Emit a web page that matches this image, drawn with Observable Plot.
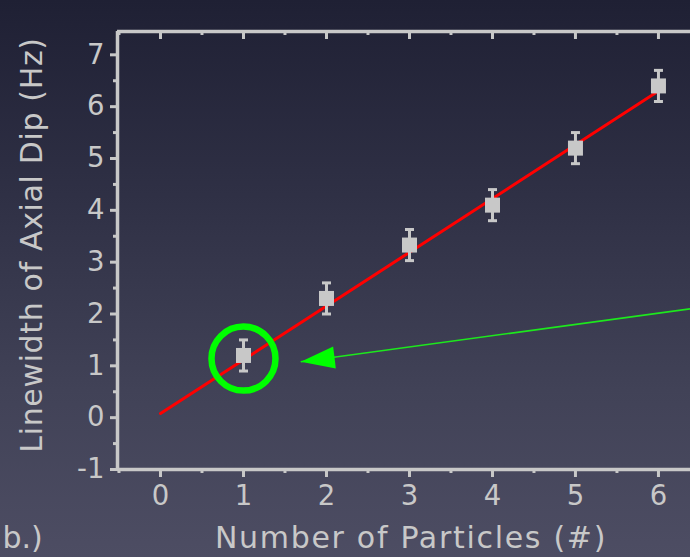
<!DOCTYPE html>
<html>
<head>
<meta charset="utf-8">
<script src="https://cdn.jsdelivr.net/npm/d3@7"></script>
<script src="https://cdn.jsdelivr.net/npm/@observablehq/plot@0.6"></script>
<style>
  html, body { margin: 0; padding: 0; background: #35364b; }
  #chart { width: 690px; height: 557px; }
</style>
</head>
<body>
<div id="chart"></div>
<script>
// ---- data ----
const particles = [1, 2, 3, 4, 5, 6];
const linewidths = [1.2, 2.3, 3.33, 4.1, 5.2, 6.4];
const errors = [0.3, 0.3, 0.3, 0.3, 0.3, 0.3];
const fitX = [0, 6];
const fitY = [0.08, 6.3];
const xTicks = [0, 1, 2, 3, 4, 5, 6];
const xMinorTicks = [-0.5, 0.5, 1.5, 2.5, 3.5, 4.5, 5.5];
const yTicks = [-1, 0, 1, 2, 3, 4, 5, 6, 7];
const yMinorTicks = [-0.5, 0.5, 1.5, 2.5, 3.5, 4.5, 5.5, 6.5];
const highlight = [{x: 1, y: 1.14}];
const arrowTail = {x: 6.386, y: 2.1};
const arrowTip = {x: 1.69, y: 1.08};
const xDomain = [-0.518, 6.386];
const yDomain = [-1, 7.45];
const xLabel = "Number of Particles (#)";
const yLabel = "Linewidth of Axial Dip (Hz)";
const panelLabel = "b.)";

// ---- build ----
const rows = particles.map((x, i) => ({x, y: linewidths[i], e: errors[i]}));
const fit = fitX.map((x, i) => ({x, y: fitY[i]}));

const gray = "#c8c8c8";
const green = "#00ff00";

const capSymbol = {
  draw(ctx) {
    const w = 4.5, h = 1.5;
    ctx.moveTo(-w, -h); ctx.lineTo(w, -h); ctx.lineTo(w, h); ctx.lineTo(-w, h); ctx.closePath();
  }
};
const headSymbol = {
  draw(ctx) {
    ctx.moveTo(0, 0); ctx.lineTo(34, -11); ctx.lineTo(34, 11); ctx.closePath();
  }
};
const squareR = 15 / Math.sqrt(Math.PI);
const fmt = d => d < 0 ? "-" + Math.abs(d) : String(d);

const chart = Plot.plot({
  width: 690,
  height: 557,
  marginLeft: 117,
  marginRight: 0,
  marginTop: 31,
  marginBottom: 88,
  style: {
    background: "linear-gradient(to bottom, #1f2034 0%, #2f3045 35%, #414257 70%, #4d4d63 100%)",
    color: gray,
    fontFamily: "'DejaVu Sans', Verdana, sans-serif",
    overflow: "visible"
  },
  x: {domain: xDomain},
  y: {domain: yDomain},
  marks: [
    // frame lines
    Plot.ruleX([xDomain[0]], {y1: yDomain[0], y2: yDomain[1], stroke: gray, strokeWidth: 3.5}),
    Plot.ruleY([yDomain[0], yDomain[1]], {stroke: gray, strokeWidth: 3.5}),
    // left axis
    Plot.axisY({ticks: yTicks, tickSize: 7, tickPadding: 6, strokeWidth: 3, fontSize: 27.5, tickFormat: fmt, label: null}),
    Plot.axisY({ticks: yMinorTicks, tickSize: 4, strokeWidth: 3, text: null, label: null}),
    // bottom axis
    Plot.axisX({ticks: xTicks, tickSize: 8, tickPadding: 8, strokeWidth: 3, fontSize: 27.5, tickFormat: fmt, label: null}),
    Plot.axisX({ticks: xMinorTicks, tickSize: 4, strokeWidth: 3, text: null, label: null}),
    // top axis (ticks inward)
    Plot.axisX({anchor: "top", ticks: xTicks, tickSize: 7, dy: 7, strokeWidth: 3, text: null, label: null}),
    Plot.axisX({anchor: "top", ticks: xMinorTicks, tickSize: 3, dy: 3, strokeWidth: 3, text: null, label: null}),
    // fit line
    Plot.line(fit, {x: "x", y: "y", stroke: "#ff0000", strokeWidth: 3}),
    // error bars
    Plot.ruleX(rows, {x: "x", y1: d => d.y - d.e, y2: d => d.y + d.e, stroke: gray, strokeWidth: 3}),
    Plot.dot(rows, {x: "x", y: d => d.y - d.e, symbol: capSymbol, fill: gray, stroke: "none"}),
    Plot.dot(rows, {x: "x", y: d => d.y + d.e, symbol: capSymbol, fill: gray, stroke: "none"}),
    Plot.dot(rows, {x: "x", y: "y", symbol: "square", r: squareR, fill: gray, stroke: "none"}),
    // highlight circle
    Plot.dot(highlight, {x: "x", y: "y", r: 32, stroke: green, strokeWidth: 6.5, fill: "none"}),
    // arrow
    Plot.link([{a: arrowTail, b: arrowTip}], {x1: d => d.a.x, y1: d => d.a.y, x2: d => d.b.x, y2: d => d.b.y, stroke: "#1de81d", strokeWidth: 1.6}),
    Plot.dot([arrowTip], {x: "x", y: "y", symbol: headSymbol, rotate: -7, fill: green, stroke: "none"}),
    // axis titles
    Plot.text([xLabel], {frameAnchor: "bottom", dx: 7, dy: 78, fontSize: 30, fill: gray, text: d => d}),
    Plot.text([yLabel], {frameAnchor: "left", textAnchor: "middle", dx: -85, dy: -5.5, rotate: -90, fontSize: 30, fill: gray, text: d => d}),
    Plot.text([panelLabel], {frameAnchor: "bottom-left", dx: -115, dy: 78, textAnchor: "start", fontSize: 30, fill: gray, text: d => d})
  ]
});
d3.select(chart).selectAll("text")
  .filter(function() { return this.textContent === xLabel; })
  .attr("letter-spacing", "1.7px");
d3.select(chart).selectAll("text")
  .filter(function() { return this.textContent === yLabel; })
  .attr("letter-spacing", "0.65px");
document.getElementById("chart").appendChild(chart);
</script>
</body>
</html>
